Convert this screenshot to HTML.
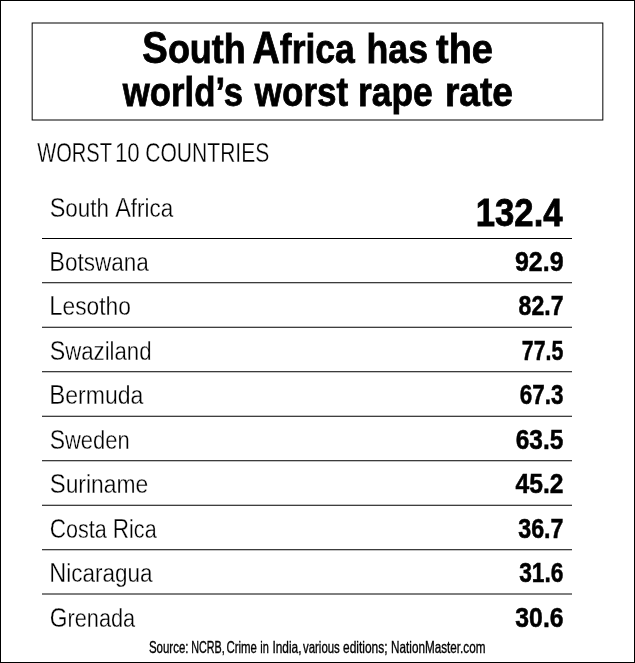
<!DOCTYPE html>
<html><head><meta charset="utf-8"><title>South Africa has the world’s worst rape rate</title>
<style>
html,body{margin:0;padding:0;background:#fff;}
body{width:635px;height:663px;overflow:hidden;}
svg{display:block;}
text{font-family:"Liberation Sans",Arial,sans-serif;fill:#000;}
</style></head><body>
<svg width="635" height="663" viewBox="0 0 635 663">
<rect x="0" y="0" width="635" height="663" fill="#fff"/>
<rect x="0.5" y="0.5" width="634" height="662" fill="none" stroke="#000" stroke-width="1"/>
<rect x="32.17" y="23.0" width="570.66" height="97.0" fill="none" stroke="#000" stroke-width="1"/>
<line x1="42" x2="572" y1="238.5" y2="238.5" stroke="#000" stroke-width="1"/>
<line x1="42" x2="572" y1="282.74" y2="282.74" stroke="#000" stroke-width="1"/>
<line x1="42" x2="572" y1="327.26" y2="327.26" stroke="#000" stroke-width="1"/>
<line x1="42" x2="572" y1="371.74" y2="371.74" stroke="#000" stroke-width="1"/>
<line x1="42" x2="572" y1="416.26" y2="416.26" stroke="#000" stroke-width="1"/>
<line x1="42" x2="572" y1="460.74" y2="460.74" stroke="#000" stroke-width="1"/>
<line x1="42" x2="572" y1="505.26" y2="505.26" stroke="#000" stroke-width="1"/>
<line x1="42" x2="572" y1="549.74" y2="549.74" stroke="#000" stroke-width="1"/>
<line x1="42" x2="572" y1="594.0" y2="594.0" stroke="#000" stroke-width="1"/>
<text x="142.34" y="62.6" font-size="41" textLength="103.53" lengthAdjust="spacingAndGlyphs" font-weight="bold" stroke="#000" stroke-width="0.8"><tspan font-size="43.6">S</tspan>outh</text>
<text x="252.57" y="62.6" font-size="41" textLength="102.25" lengthAdjust="spacingAndGlyphs" font-weight="bold" stroke="#000" stroke-width="0.8"><tspan font-size="43.6">A</tspan>frica</text>
<text x="366.44" y="62.6" font-size="41" textLength="61.57" lengthAdjust="spacingAndGlyphs" font-weight="bold" stroke="#000" stroke-width="0.8">has</text>
<text x="436.00" y="62.6" font-size="41" textLength="56.93" lengthAdjust="spacingAndGlyphs" font-weight="bold" stroke="#000" stroke-width="0.8">the</text>
<text x="122.82" y="106.0" font-size="41" textLength="120.24" lengthAdjust="spacingAndGlyphs" font-weight="bold" stroke="#000" stroke-width="0.8">world’s</text>
<text x="254.83" y="106.0" font-size="41" textLength="93.27" lengthAdjust="spacingAndGlyphs" font-weight="bold" stroke="#000" stroke-width="0.8">worst</text>
<text x="358.06" y="106.0" font-size="41" textLength="74.68" lengthAdjust="spacingAndGlyphs" font-weight="bold" stroke="#000" stroke-width="0.8">rape</text>
<text x="444.97" y="106.0" font-size="41" textLength="67.91" lengthAdjust="spacingAndGlyphs" font-weight="bold" stroke="#000" stroke-width="0.8">rate</text>
<text x="37.23" y="162" font-size="27.5" textLength="74.81" lengthAdjust="spacingAndGlyphs" stroke="#fff" stroke-width="0.3">WORST</text>
<text x="114.88" y="162" font-size="27.5" textLength="24.81" lengthAdjust="spacingAndGlyphs" stroke="#fff" stroke-width="0.3">10</text>
<text x="145.25" y="162" font-size="27.5" textLength="124.06" lengthAdjust="spacingAndGlyphs" stroke="#fff" stroke-width="0.3">COUNTRIES</text>
<text x="49.71" y="216.6" font-size="26" textLength="123.50" lengthAdjust="spacingAndGlyphs" stroke="#fff" stroke-width="0.3"><tspan font-size="27.2">S</tspan>outh <tspan font-size="27.2">A</tspan>frica</text>
<text x="475.79" y="225.5" font-size="38.4" textLength="86.83" lengthAdjust="spacingAndGlyphs" font-weight="bold" stroke="#000" stroke-width="0.8">132.4</text>
<text x="49.27" y="270.8" font-size="26" textLength="99.64" lengthAdjust="spacingAndGlyphs" stroke="#fff" stroke-width="0.3"><tspan font-size="27.2">B</tspan>otswana</text>
<text x="514.92" y="270.8" font-size="27.4" textLength="48.63" lengthAdjust="spacingAndGlyphs" font-weight="bold" stroke="#000" stroke-width="0.5">92.9</text>
<text x="49.25" y="315.27" font-size="26" textLength="81.60" lengthAdjust="spacingAndGlyphs" stroke="#fff" stroke-width="0.3"><tspan font-size="27.2">L</tspan>esotho</text>
<text x="518.58" y="315.27" font-size="27.4" textLength="44.91" lengthAdjust="spacingAndGlyphs" font-weight="bold" stroke="#000" stroke-width="0.5">82.7</text>
<text x="49.72" y="359.74" font-size="26" textLength="101.81" lengthAdjust="spacingAndGlyphs" stroke="#fff" stroke-width="0.3"><tspan font-size="27.2">S</tspan>waziland</text>
<text x="521.82" y="359.74" font-size="27.4" textLength="41.42" lengthAdjust="spacingAndGlyphs" font-weight="bold" stroke="#000" stroke-width="0.5">77.5</text>
<text x="49.23" y="404.21" font-size="26" textLength="94.11" lengthAdjust="spacingAndGlyphs" stroke="#fff" stroke-width="0.3"><tspan font-size="27.2">B</tspan>ermuda</text>
<text x="519.79" y="404.21" font-size="27.4" textLength="43.68" lengthAdjust="spacingAndGlyphs" font-weight="bold" stroke="#000" stroke-width="0.5">67.3</text>
<text x="49.73" y="448.68" font-size="26" textLength="79.96" lengthAdjust="spacingAndGlyphs" stroke="#fff" stroke-width="0.3"><tspan font-size="27.2">S</tspan>weden</text>
<text x="515.73" y="448.68" font-size="27.4" textLength="47.57" lengthAdjust="spacingAndGlyphs" font-weight="bold" stroke="#000" stroke-width="0.5">63.5</text>
<text x="49.68" y="493.15" font-size="26" textLength="98.59" lengthAdjust="spacingAndGlyphs" stroke="#fff" stroke-width="0.3"><tspan font-size="27.2">S</tspan>uriname</text>
<text x="515.60" y="493.15" font-size="27.4" textLength="47.93" lengthAdjust="spacingAndGlyphs" font-weight="bold" stroke="#000" stroke-width="0.5">45.2</text>
<text x="49.76" y="537.62" font-size="26" textLength="106.87" lengthAdjust="spacingAndGlyphs" stroke="#fff" stroke-width="0.3"><tspan font-size="27.2">C</tspan>osta <tspan font-size="27.2">R</tspan>ica</text>
<text x="518.19" y="537.62" font-size="27.4" textLength="45.30" lengthAdjust="spacingAndGlyphs" font-weight="bold" stroke="#000" stroke-width="0.5">36.7</text>
<text x="49.27" y="582.09" font-size="26" textLength="103.24" lengthAdjust="spacingAndGlyphs" stroke="#fff" stroke-width="0.3"><tspan font-size="27.2">N</tspan>icaragua</text>
<text x="519.19" y="582.09" font-size="27.4" textLength="44.28" lengthAdjust="spacingAndGlyphs" font-weight="bold" stroke="#000" stroke-width="0.5">31.6</text>
<text x="49.74" y="626.56" font-size="26" textLength="85.46" lengthAdjust="spacingAndGlyphs" stroke="#fff" stroke-width="0.3"><tspan font-size="27.2">G</tspan>renada</text>
<text x="515.37" y="626.56" font-size="27.4" textLength="48.16" lengthAdjust="spacingAndGlyphs" font-weight="bold" stroke="#000" stroke-width="0.5">30.6</text>
<text x="148.95" y="652.6" font-size="16.5" textLength="39.50" lengthAdjust="spacingAndGlyphs" stroke="#000" stroke-width="0.35">Source:</text>
<text x="191.25" y="652.6" font-size="16.5" textLength="33.43" lengthAdjust="spacingAndGlyphs" stroke="#000" stroke-width="0.35">NCRB,</text>
<text x="226.45" y="652.6" font-size="16.5" textLength="30.49" lengthAdjust="spacingAndGlyphs" stroke="#000" stroke-width="0.35">Crime</text>
<text x="260.20" y="652.6" font-size="16.5" textLength="8.56" lengthAdjust="spacingAndGlyphs" stroke="#000" stroke-width="0.35">in</text>
<text x="272.40" y="652.6" font-size="16.5" textLength="29.09" lengthAdjust="spacingAndGlyphs" stroke="#000" stroke-width="0.35">India,</text>
<text x="303.00" y="652.6" font-size="16.5" textLength="36.81" lengthAdjust="spacingAndGlyphs" stroke="#000" stroke-width="0.35">various</text>
<text x="343.04" y="652.6" font-size="16.5" textLength="44.55" lengthAdjust="spacingAndGlyphs" stroke="#000" stroke-width="0.35">editions;</text>
<text x="391.09" y="652.6" font-size="16.5" textLength="94.32" lengthAdjust="spacingAndGlyphs" stroke="#000" stroke-width="0.35">NationMaster.com</text>
</svg>
</body></html>
